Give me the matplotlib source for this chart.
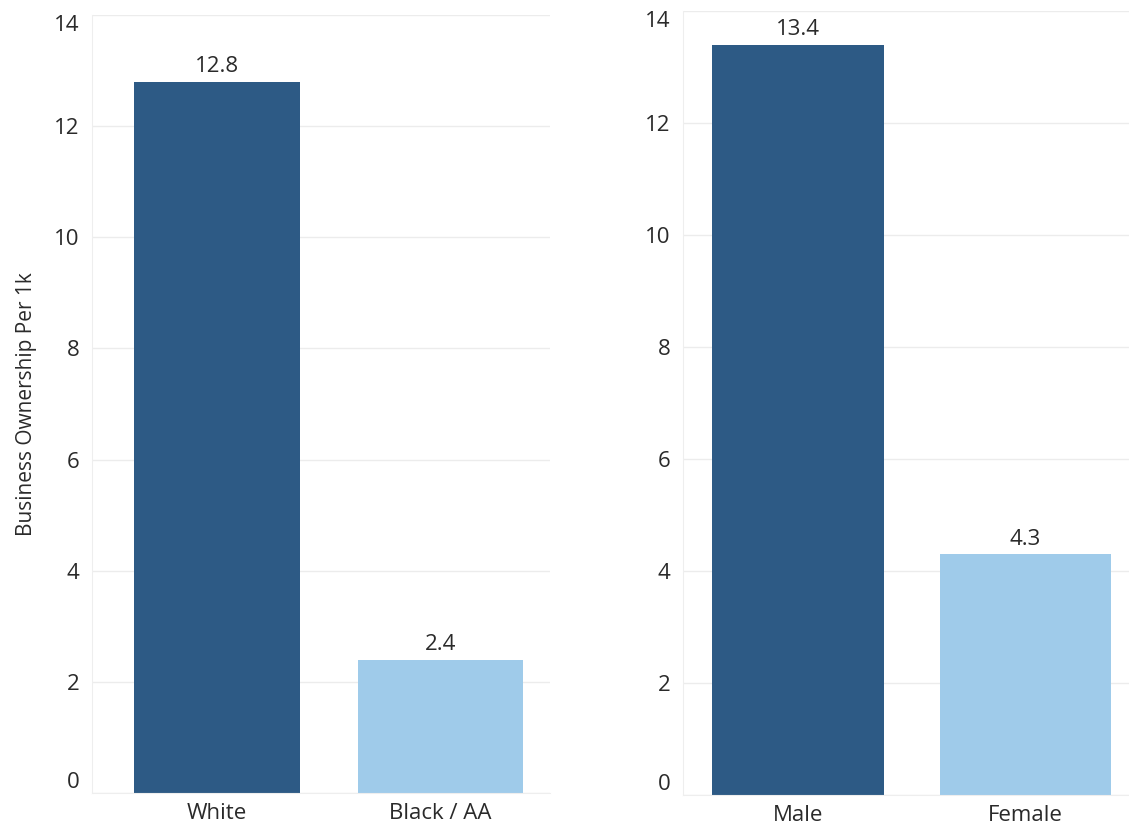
import matplotlib.pyplot as plt
from matplotlib.transforms import ScaledTranslation

race_labels = ['White', 'Black / AA']
race_values = [12.8, 2.4]
gender_labels = ['Male', 'Female']
gender_values = [13.4, 4.3]
bar_colors = ['#2d5a85', '#9fcbea']
y_ticks = [0, 2, 4, 6, 8, 10, 12, 14]

plt.rcParams['font.family'] = ['Open Sans', 'DejaVu Sans']

fig = plt.figure(figsize=(11.29, 8.31), dpi=100)
ax1 = fig.add_axes([0.0815, 0.0457, 0.4057, 0.9363])
ax2 = fig.add_axes([0.605, 0.0433, 0.395, 0.9435])


def draw_panel(ax, labels, values, xlim, width):
    x = list(range(len(labels)))
    ax.bar(x, values, width=width, color=bar_colors, zorder=2)
    for xi, v in zip(x, values):
        ax.annotate(f'{v:.1f}', (xi, v), xytext=(0, 3), textcoords='offset points',
                    ha='center', va='bottom', fontsize=16, color='#2a2a2a')
    ax.set_xlim(*xlim)
    ax.set_ylim(0, 14)
    ax.set_xticks(x)
    ax.set_xticklabels(labels, fontsize=16, color='#2a2a2a')
    ax.set_yticks(y_ticks)
    ax.set_yticklabels([str(t) for t in y_ticks], fontsize=16, color='#2a2a2a')
    # Tableau-style: end labels pulled inside the pane
    tl = ax.get_yticklabels()
    tl[0].set_va('bottom')
    tl[-1].set_va('top')
    tl[-1].set_transform(tl[-1].get_transform() + ScaledTranslation(0, -0.06, fig.dpi_scale_trans))
    ax.tick_params(axis='both', length=0, pad=9)
    ax.tick_params(axis='x', pad=7)
    ax.grid(axis='y', color='#ececec', linewidth=1, zorder=0)
    for side in ['top', 'right']:
        ax.spines[side].set_visible(False)
    ax.spines['left'].set_color('#eeeeee')
    ax.spines['bottom'].set_color('#eeeeee')


draw_panel(ax1, race_labels, race_values, (-0.56, 1.49), 0.74)
draw_panel(ax2, gender_labels, gender_values, (-0.505, 1.455), 0.755)
ax1.set_ylabel('Business Ownership Per 1k', fontsize=15, color='#2a2a2a', labelpad=12)

fig.savefig('out.png', dpi=100)
